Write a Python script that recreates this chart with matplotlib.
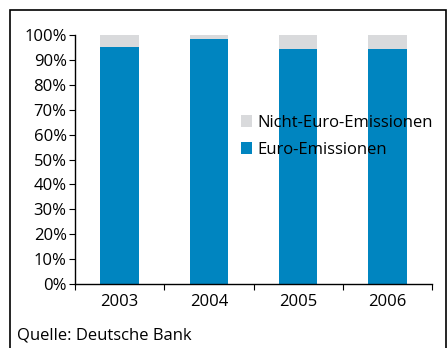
import matplotlib.pyplot as plt
from matplotlib.patches import Rectangle

years = ['2003', '2004', '2005', '2006']
euro = [95.2, 98.4, 94.4, 94.4]
non_euro = [100 - v for v in euro]

blue = '#0085c0'
grey = '#d9dadc'

plt.rcParams['font.family'] = ['Open Sans', 'DejaVu Sans']

fig = plt.figure(figsize=(4.47, 3.48), dpi=100)
ax = fig.add_axes([75 / 447, 1 - 284 / 348, (432 - 75) / 447, (284 - 35) / 348])

x = range(len(years))
ax.bar(x, euro, width=0.43, color=blue, label='Euro-Emissionen')
ax.bar(x, non_euro, bottom=euro, width=0.43, color=grey, label='Nicht-Euro-Emissionen')

ax.set_xlim(-0.5, 3.5)
ax.set_ylim(0, 100)
ax.set_yticks(range(0, 101, 10))
ax.set_yticklabels([f'{v}%' for v in range(0, 101, 10)])
ax.set_xticks([i - 0.5 for i in range(5)])
ax.set_xticklabels([])
ax.set_xticks(list(x), minor=True)
ax.set_xticklabels(years, minor=True)
ax.tick_params(axis='x', which='minor', length=0, pad=7, labelsize=12)
ax.tick_params(axis='x', which='major', length=4, direction='out')
ax.tick_params(axis='y', length=4, direction='out', labelsize=12, pad=2)

for side in ['top', 'right']:
    ax.spines[side].set_visible(False)
ax.spines['left'].set_linewidth(1.0)
ax.spines['bottom'].set_linewidth(1.0)

handles, labels = ax.get_legend_handles_labels()
ax.legend(handles[::-1], labels[::-1], loc='upper left',
          bbox_to_anchor=(0.445, 0.705), frameon=False, fontsize=12,
          handlelength=0.7, handleheight=0.7, handletextpad=0.3,
          labelspacing=0.65, borderaxespad=0)

fig.text(17 / 447, 1 - 335 / 348, 'Quelle: Deutsche Bank', fontsize=12, va='center')

# outer frame around the whole exhibit
fig.patches.append(Rectangle((10 / 447, -0.1), 436 / 447, 1 - 10 / 348 + 0.1,
                             transform=fig.transFigure, fill=False,
                             edgecolor='black', linewidth=1.2))

fig.savefig('out.png', dpi=100)
